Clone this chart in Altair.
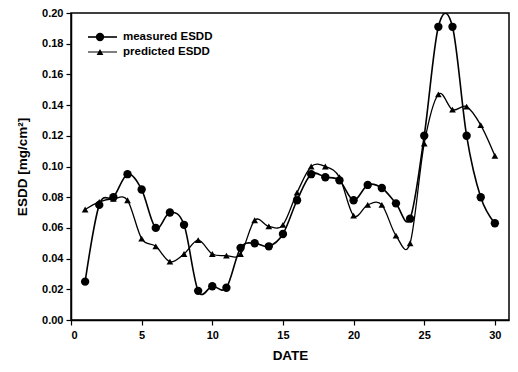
import altair as alt
import pandas as pd

days = list(range(1, 31))
measured = [0.025, 0.075, 0.080, 0.095, 0.085, 0.060, 0.070, 0.062, 0.019, 0.022,
            0.021, 0.047, 0.050, 0.048, 0.056, 0.078, 0.095, 0.093, 0.091, 0.078,
            0.088, 0.086, 0.076, 0.066, 0.120, 0.191, 0.191, 0.120, 0.080, 0.063]
predicted = [0.072, 0.077, 0.079, 0.078, 0.053, 0.048, 0.038, 0.043, 0.052, 0.043,
             0.042, 0.043, 0.065, 0.061, 0.062, 0.083, 0.100, 0.100, 0.093, 0.068,
             0.075, 0.075, 0.055, 0.050, 0.115, 0.147, 0.137, 0.139, 0.127, 0.107]
series_names = ["measured ESDD", "predicted ESDD"]
x_ticks = [0, 5, 10, 15, 20, 25, 30]
y_ticks = [0.00, 0.02, 0.04, 0.06, 0.08, 0.10, 0.12, 0.14, 0.16, 0.18, 0.20]

df_m = pd.DataFrame({"day": days, "esdd": measured})
df_p = pd.DataFrame({"day": days, "esdd": predicted})

FONT = "Liberation Sans"
W, H = 438, 307

x = alt.X("day:Q", scale=alt.Scale(domain=[0, 31], nice=False),
          axis=alt.Axis(values=x_ticks, title="DATE", format="d"))
y = alt.Y("esdd:Q", scale=alt.Scale(domain=[0, 0.2], nice=False),
          axis=alt.Axis(values=y_ticks, title="ESDD [mg/cm²]", format=".2f"))

line_m = alt.Chart(df_m).mark_line(color="black", strokeWidth=1.6, interpolate="cardinal", clip=True).encode(x=x, y=y)
pts_m = alt.Chart(df_m).mark_point(shape="circle", filled=True, color="black", size=70, opacity=1, clip=True).encode(x=x, y=y)
line_p = alt.Chart(df_p).mark_line(color="black", strokeWidth=1.3, interpolate="cardinal", clip=True).encode(x=x, y=y)
pts_p = alt.Chart(df_p).mark_point(shape="triangle-up", filled=True, color="black", size=45, opacity=1, clip=True).encode(x=x, y=y)

# legend
leg_df = pd.DataFrame({"name": series_names})
leg_line_m = alt.Chart(leg_df.iloc[[0]]).mark_rule(color="black", strokeWidth=1.6).encode(
    x=alt.value(17), x2=alt.value(46), y=alt.value(24))
leg_pt_m = alt.Chart(leg_df.iloc[[0]]).mark_point(shape="circle", filled=True, color="black", size=70, opacity=1).encode(
    x=alt.value(29), y=alt.value(24))
leg_line_p = alt.Chart(leg_df.iloc[[1]]).mark_rule(color="black", strokeWidth=1.0).encode(
    x=alt.value(17), x2=alt.value(46), y=alt.value(39))
leg_pt_p = alt.Chart(leg_df.iloc[[1]]).mark_point(shape="triangle-up", filled=True, color="black", size=45, opacity=1).encode(
    x=alt.value(29), y=alt.value(39))
leg_text_m = alt.Chart(leg_df.iloc[[0]]).mark_text(align="left", baseline="middle", font=FONT, fontSize=11.5, fontWeight="bold").encode(
    x=alt.value(52), y=alt.value(24), text="name:N")
leg_text_p = alt.Chart(leg_df.iloc[[1]]).mark_text(align="left", baseline="middle", font=FONT, fontSize=11.5, fontWeight="bold").encode(
    x=alt.value(52), y=alt.value(39), text="name:N")

chart = alt.layer(line_m, line_p, pts_p, pts_m,
                  leg_line_m, leg_line_p, leg_pt_m, leg_pt_p, leg_text_m, leg_text_p).properties(
    width=W, height=H,
    autosize=alt.AutoSizeParams(type="none"),
    padding={"left": 63, "top": 5, "right": 1, "bottom": 44},
).configure_view(stroke="black", strokeWidth=1.5).configure_axis(
    domainColor="black", tickColor="black", labelColor="black", titleColor="black",
    grid=False, labelFont=FONT, titleFont=FONT, labelFontSize=11, titleFontSize=13.5,
    labelFontWeight="bold", titleFontWeight="bold", tickSize=5, domainWidth=1.5, tickWidth=1.2,
).configure_axisX(labelPadding=4, titlePadding=8).configure_axisY(labelPadding=3, titlePadding=12)

chart.save("out.html", embed_options={"renderer": "svg", "actions": False})
